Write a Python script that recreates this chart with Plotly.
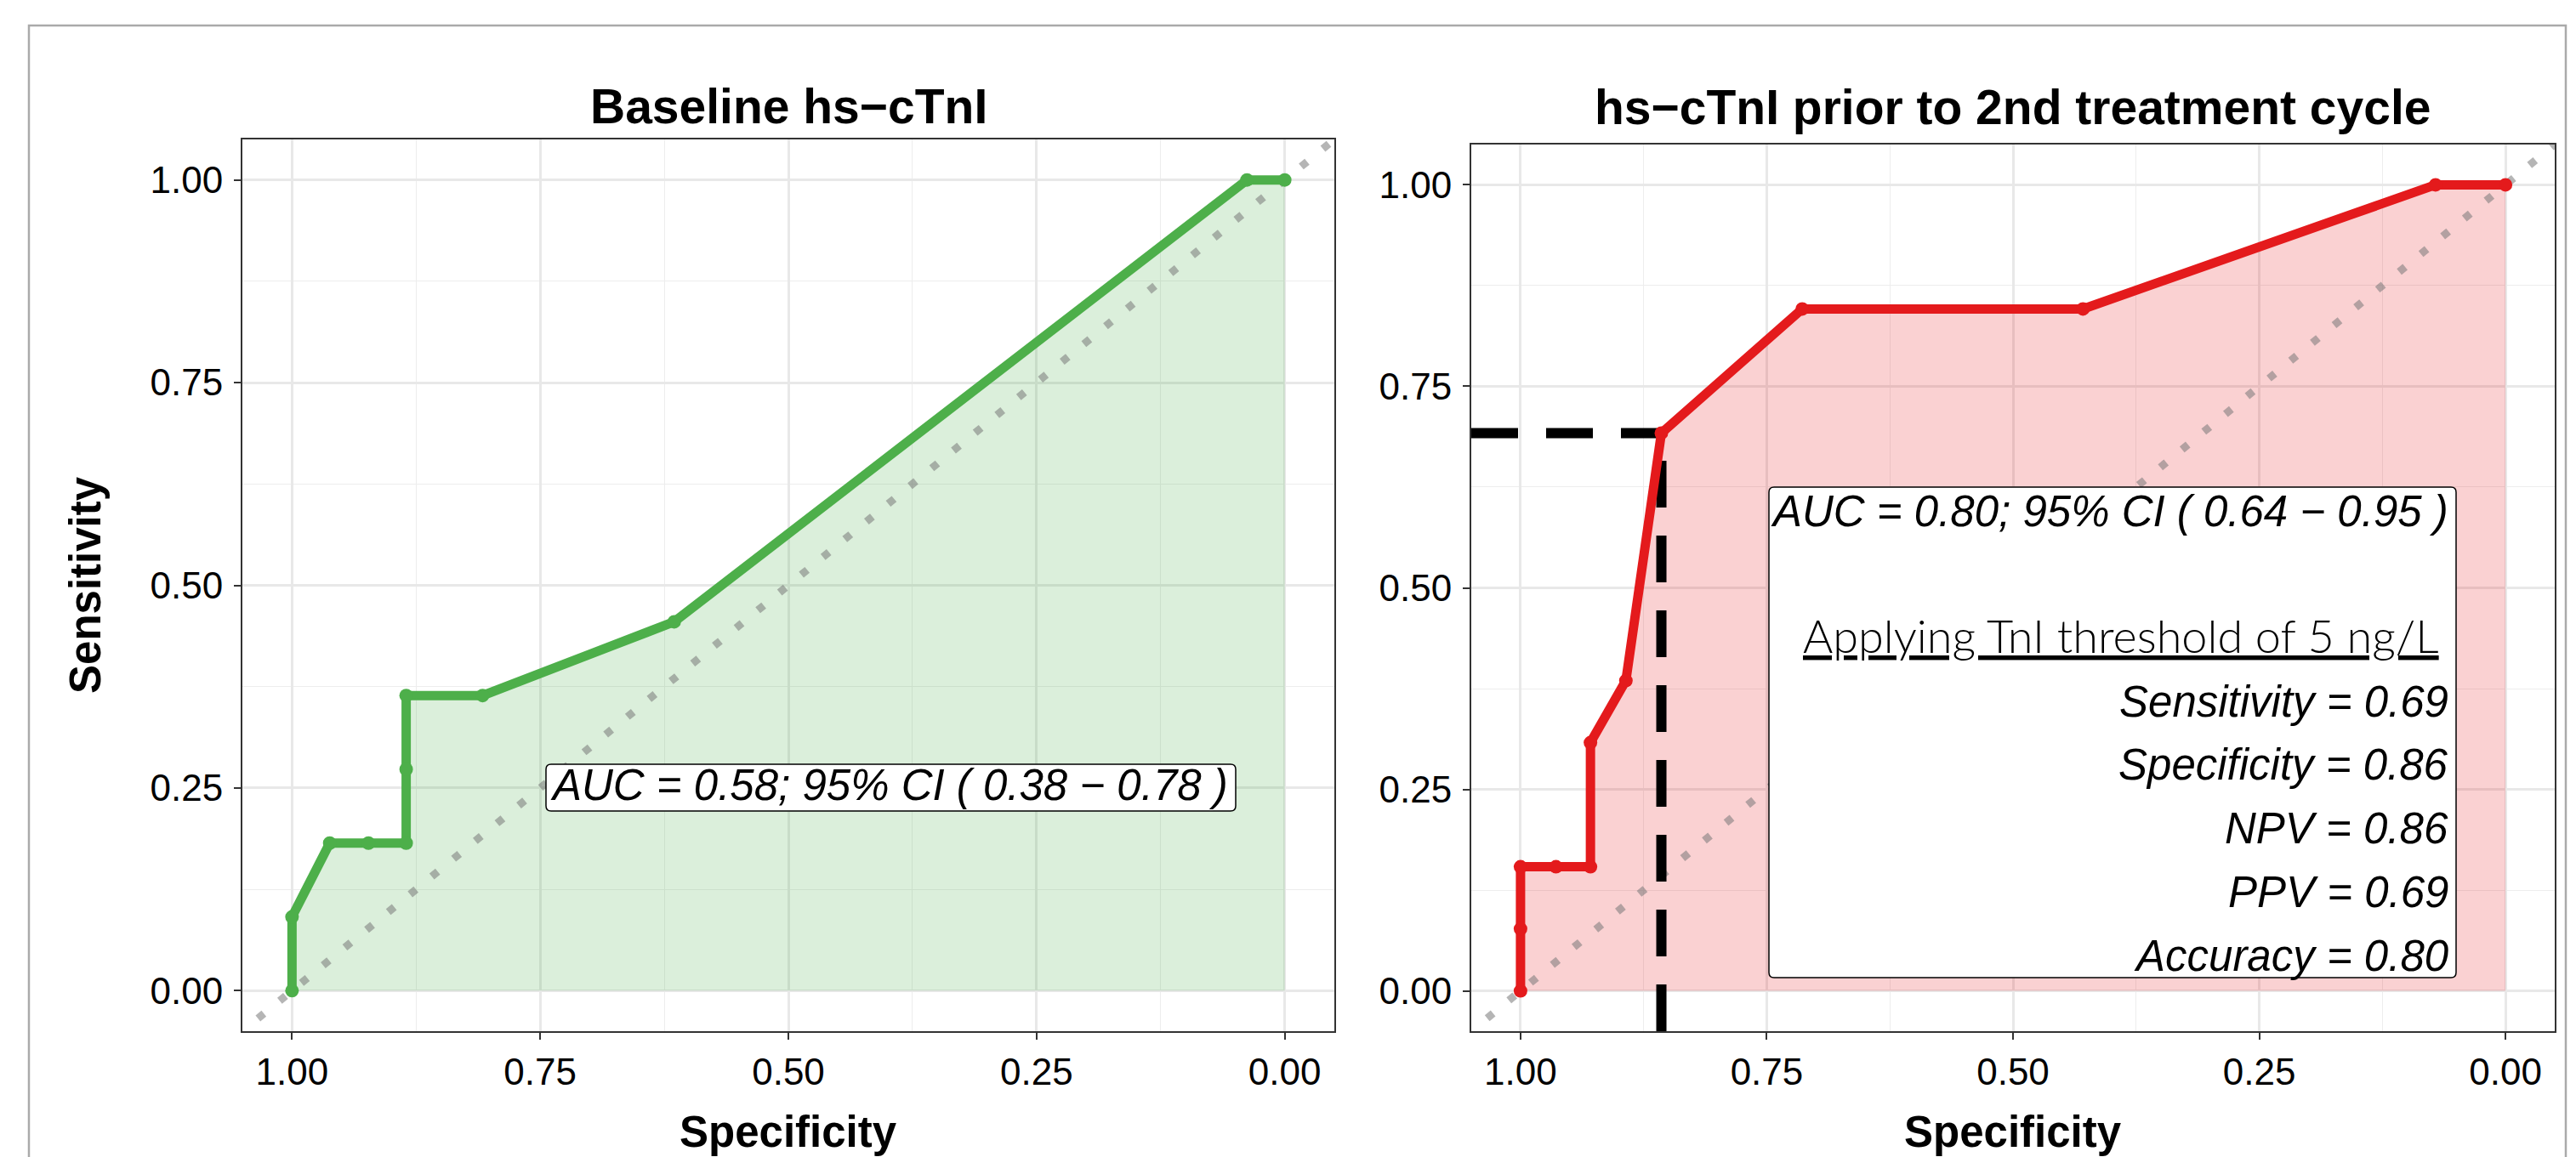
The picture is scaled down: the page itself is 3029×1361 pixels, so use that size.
import plotly.graph_objects as go

W, H = 3029, 1361

# ---------------- data ----------------
spec_baseline = [1.0, 1.0, 0.962, 0.923, 0.885, 0.885, 0.885, 0.808, 0.615, 0.038, 0.0]
sens_baseline = [0.0, 0.091, 0.182, 0.182, 0.182, 0.273, 0.364, 0.364, 0.455, 1.0, 1.0]

spec_cycle2 = [1.0, 1.0, 1.0, 0.964, 0.929, 0.929, 0.893, 0.857, 0.714, 0.429, 0.071, 0.0]
sens_cycle2 = [0.0, 0.077, 0.154, 0.154, 0.154, 0.308, 0.385, 0.692, 0.846, 0.846, 1.0, 1.0]

thr_spec = 0.857
thr_sens = 0.692

tick_vals = [0.0, 0.25, 0.5, 0.75, 1.0]
tick_text = ["0.00", "0.25", "0.50", "0.75", "1.00"]
minor_vals = [0.125, 0.375, 0.625, 0.875]

titles = ["Baseline hs\u2212cTnI", "hs\u2212cTnI prior to 2nd treatment cycle"]
auc_baseline = "AUC = 0.58; 95% CI ( 0.38 \u2212 0.78 )"
auc_cycle2 = "AUC = 0.80; 95% CI ( 0.64 \u2212 0.95 )"
threshold_title = "Applying TnI threshold of 5 ng/L"
metric_lines = ["Sensitivity = 0.69", "Specificity = 0.86", "NPV = 0.86",
                "PPV = 0.69", "Accuracy = 0.80"]

GREEN = "#4daf4a"
RED = "#e41a1c"
GREEN_FILL = "rgba(77,175,74,0.2)"
RED_FILL = "rgba(228,26,28,0.2)"
DIAG = "rgba(120,120,120,0.55)"

XR = [1.05, -0.05]
YR = [-0.05, 1.05]

FONT = "Liberation Sans, Arial, Helvetica, sans-serif"


def px(x):
    return x / W


def py(y):
    return 1 - y / H


fig = go.Figure()


def add_panel(spec, sens, fill, xa, ya):
    # fill under curve
    fig.add_trace(go.Scatter(x=spec, y=sens, mode="lines", line=dict(width=0, color=fill),
                             fill="tozeroy", fillcolor=fill, xaxis=xa, yaxis=ya,
                             hoverinfo="skip", showlegend=False))
    # diagonal reference
    fig.add_trace(go.Scatter(x=[XR[0] + 0.05, XR[1] - 0.05], y=[YR[0] - 0.05, YR[1] + 0.05],
                             mode="lines",
                             line=dict(color=DIAG, width=9, dash="9px,24px"),
                             xaxis=xa, yaxis=ya, hoverinfo="skip", showlegend=False))


add_panel(spec_baseline, sens_baseline, GREEN_FILL, "x", "y")
add_panel(spec_cycle2, sens_cycle2, RED_FILL, "x2", "y2")

# threshold dashed lines (right panel)
fig.add_trace(go.Scatter(x=[XR[0], thr_spec], y=[thr_sens, thr_sens], mode="lines",
                         line=dict(color="black", width=12, dash="55px,33px"),
                         xaxis="x2", yaxis="y2", showlegend=False, hoverinfo="skip"))
fig.add_trace(go.Scatter(x=[thr_spec, thr_spec], y=[YR[0], thr_sens], mode="lines",
                         line=dict(color="black", width=12, dash="55px,33px"),
                         xaxis="x2", yaxis="y2", showlegend=False, hoverinfo="skip"))

# ROC curves
fig.add_trace(go.Scatter(x=spec_baseline, y=sens_baseline, mode="lines+markers",
                         line=dict(color=GREEN, width=11), marker=dict(color=GREEN, size=16),
                         xaxis="x", yaxis="y", showlegend=False))
fig.add_trace(go.Scatter(x=spec_cycle2, y=sens_cycle2, mode="lines+markers",
                         line=dict(color=RED, width=11), marker=dict(color=RED, size=16),
                         xaxis="x2", yaxis="y2", showlegend=False))


def axis_style(rng, domain, anchor, is_x):
    return dict(
        range=rng, domain=domain, anchor=anchor,
        tickmode="array", tickvals=tick_vals, ticktext=tick_text,
        ticks="outside", ticklen=8, tickwidth=2, tickcolor="#333333",
        ticklabelstandoff=0 if is_x else 4,
        tickfont=dict(family=FONT, size=44, color="black"),
        showgrid=True, gridcolor="#e8e8e8", gridwidth=2.5,
        minor=dict(tickmode="array", tickvals=minor_vals, showgrid=True,
                   gridcolor="#ededed", gridwidth=1.3, ticks=""),
        showline=True, mirror=True, linecolor="#333333", linewidth=2,
        zeroline=False, fixedrange=True,
    )


fig.update_layout(
    width=W, height=H,
    margin=dict(l=0, r=0, t=0, b=0),
    paper_bgcolor="white", plot_bgcolor="white",
    showlegend=False,
    xaxis=axis_style(XR, [px(285), px(1569)], "y", True),
    yaxis=axis_style(YR, [py(1213), py(164)], "x", False),
    xaxis2=axis_style(XR, [px(1730), px(3004)], "y2", True),
    yaxis2=axis_style(YR, [py(1213), py(170)], "x2", False),
)

ann = []


def text(x, y, s, size, bold=False, italic=False, family=FONT, xanchor="center",
         angle=0, weight=None):
    f = dict(family=family, size=size, color="black")
    if bold:
        f["weight"] = "bold"
    if weight is not None:
        f["weight"] = weight
    if italic:
        f["style"] = "italic"
    ann.append(dict(x=px(x), y=py(y), xref="paper", yref="paper", text=s,
                    showarrow=False, xanchor=xanchor, yanchor="middle",
                    font=f, textangle=angle, borderpad=0, borderwidth=0))


# titles
text(927, 125, titles[0], 57, bold=True)
text(2367, 126, titles[1], 57, bold=True)
# axis titles
text(927, 1331, "Specificity", 51, bold=True)
text(2367, 1331, "Specificity", 51, bold=True)
text(101, 688, "Sensitivity", 51, bold=True, angle=-90)


def rounded_rect(x0, y0, x1, y1, r=6):
    X0, X1 = px(x0), px(x1)
    Y0, Y1 = py(y0), py(y1)  # Y0 top, Y1 bottom
    rx, ry = r / W, r / H
    return (f"M {X0+rx},{Y0} L {X1-rx},{Y0} Q {X1},{Y0} {X1},{Y0-ry} "
            f"L {X1},{Y1+ry} Q {X1},{Y1} {X1-rx},{Y1} "
            f"L {X0+rx},{Y1} Q {X0},{Y1} {X0},{Y1+ry} "
            f"L {X0},{Y0-ry} Q {X0},{Y0} {X0+rx},{Y0} Z")


shapes = [
    dict(type="path", path=rounded_rect(642, 899, 1453, 954), xref="paper", yref="paper",
         line=dict(color="black", width=1.5), fillcolor="white", layer="above"),
    dict(type="path", path=rounded_rect(2080, 573, 2888, 1150), xref="paper", yref="paper",
         line=dict(color="black", width=1.5), fillcolor="white", layer="above"),
    # outer frame
    dict(type="rect", x0=px(34), x1=px(3017), y0=-0.05, y1=py(30), xref="paper", yref="paper",
         line=dict(color="#aaaaaa", width=2.5), fillcolor="rgba(0,0,0,0)", layer="above"),
]

# labels
text(1045, 924, auc_baseline, 51, italic=True)
text(2879, 601, auc_cycle2, 51, italic=True, xanchor="right")
text(2868, 747, "<u>" + threshold_title + "</u>", 54, family="Lato, Open Sans, sans-serif",
     xanchor="right", weight=300)
for i, line in enumerate(metric_lines):
    text(2879, 825 + i * 74.8, line, 51, italic=True, xanchor="right")

fig.update_layout(annotations=ann, shapes=shapes)

fig.write_html("out.html", config={"displayModeBar": False},
               post_script="document.body.style.margin='0';document.body.style.overflow='hidden';")
